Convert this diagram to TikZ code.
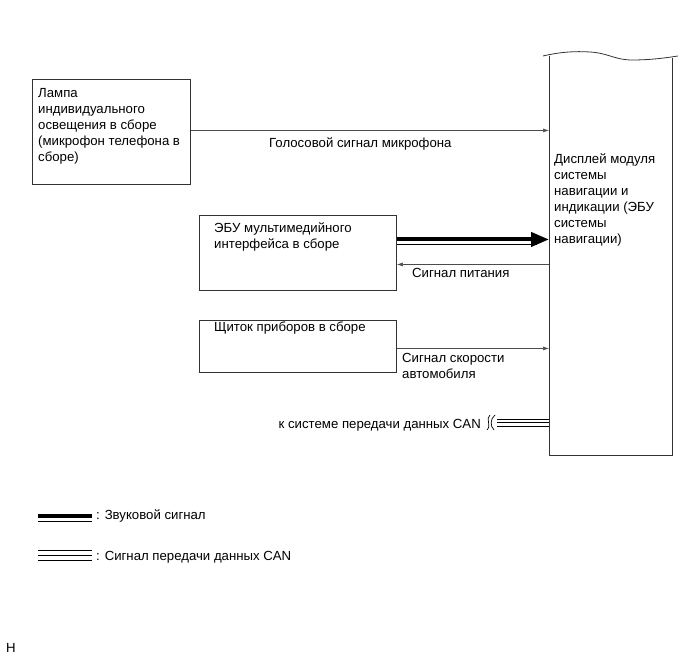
\documentclass[tikz,border=0pt]{standalone}
\usepackage{fontspec}
\setmainfont{Liberation Sans}
\usetikzlibrary{arrows.meta, positioning}

\begin{document}
\begin{tikzpicture}[x=1pt, y=-1pt,
  lbl/.style={font=\fontsize{13.2}{16}\selectfont, inner sep=0pt, align=left},
  unit/.style={draw=black!80, line width=0.9pt, inner sep=0pt, anchor=north west},
  sig/.style={draw=black!70, line width=0.6pt, -{Latex[length=6pt,width=4pt]}},
  audio/.style={line width=4pt, -{Triangle[length=18pt,width=14pt]}},
  canline/.style={line width=1pt}]
  \useasboundingbox (0,0) rectangle (691,660);
  % blocks
  \node[unit, minimum width=158pt, minimum height=105pt] (lamp) at (32,79) {};
  \node[unit, minimum width=197pt, minimum height=75pt] (ebu) at (199,215) {};
  \node[unit, minimum width=197pt, minimum height=52pt] (panel) at (199,320) {};
  \node[inner sep=0pt, minimum width=123pt, minimum height=399pt, anchor=north west] (disp) at (549,56) {};
  \draw[black!80, line width=0.9pt] (disp.north west) -- (disp.south west)
    -- (disp.south east) -- ([yshift=-2pt]disp.north east);
  \draw[black!80, line width=0.8pt] (543,56) .. controls (560,52) and (575,51) .. (590,52)
    .. controls (608,53) and (615,60) .. (632,60) .. controls (650,60) and (665,58) .. (678,56);
  % texts in blocks
  \node[lbl, anchor=north west] (lampt) at (38,88.5) {Лампа\\индивидуального\\освещения в сборе\\(микрофон телефона в\\сборе)};
  \node[lbl, anchor=north west] (ebut) at (214,222.5) {ЭБУ мультимедийного\\интерфейса в сборе};
  \node[lbl, anchor=base west] (panelt) at (214,332) {Щиток приборов в сборе};
  \node[lbl, anchor=north west] (dispt) at (554,153.5) {Дисплей модуля\\системы\\навигации и\\индикации (ЭБУ\\системы\\навигации)};
  % signals
  \draw[sig] ([yshift=1.5pt]lamp.east) coordinate (mic) -- (mic -| disp.west);
  \node[lbl, anchor=base west] (micl) at (269,148) {Голосовой сигнал микрофона};
  \coordinate (aud) at ([yshift=13.5pt]ebu.east);
  \coordinate (audend) at (aud -| disp.west);
  \draw[audio] (aud) -- (audend);
  \draw[line width=0.8pt] ([yshift=-4.5pt]aud) -- ([yshift=-4.5pt, xshift=-12pt]audend);
  \coordinate (pwr) at ([yshift=-11.5pt]ebu.east);
  \draw[sig] (pwr -| disp.west) -- (pwr);
  \node[lbl, anchor=base west] (pwrl) at (412,278) {Сигнал питания};
  \coordinate (spd) at ([yshift=-2pt]panel.east);
  \draw[sig] (spd) -- (spd -| disp.west);
  \node[lbl, anchor=north west] (spdl) at (402,353.5) {Сигнал скорости\\автомобиля};
  % CAN
  \node[lbl, anchor=base east] (canl) at (481,428) {к системе передачи данных CAN};
  \coordinate (cancut) at (497,422.5);
  \coordinate (canend) at (cancut -| disp.west);
  \foreach \dy in {-3.5,0,3.5}
    \draw[canline] ([yshift=\dy pt]cancut) -- ([yshift=\dy pt]canend);
  \draw[line width=0.7pt] (490,415) .. controls (485,419) and (492,425) .. (487,430);
  \draw[line width=0.7pt] (495,415) .. controls (490,419) and (490,426) .. (494,430);
  % legend
  \draw[line width=4pt] (38,516) -- (92,516);
  \draw[line width=0.8pt] (38,521) -- (92,521);
  \node[lbl, anchor=base west] (audl) at (96,519) {: Звуковой сигнал};
  \foreach \dy in {550,555,560}
    \draw[canline] (38,\dy) -- (92,\dy);
  \node[lbl, anchor=base west] (canlg) at (96,560) {: Сигнал передачи данных CAN};
  \node[lbl, anchor=base west] (code) at (6,652) {H};
\end{tikzpicture}
\end{document}
